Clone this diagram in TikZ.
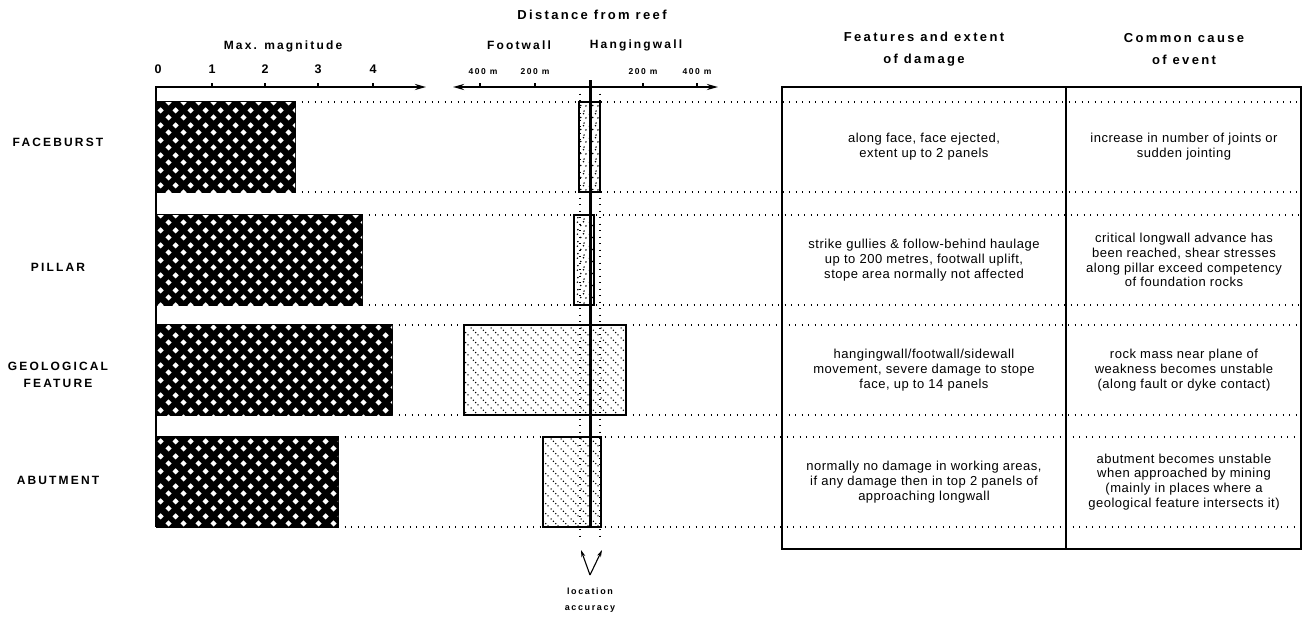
\documentclass[tikz,border=0pt]{standalone}
\usepackage{fontspec}
\setmainfont{Liberation Sans}
\newfontfamily\labfont[LetterSpace=18]{Liberation Sans}
\newfontfamily\bodyfont[LetterSpace=4]{Liberation Sans}
\usetikzlibrary{arrows.meta,patterns}

\pgfdeclarepatternformonly{wdiam}{\pgfqpoint{0pt}{0pt}}{\pgfqpoint{15pt}{15pt}}{\pgfqpoint{15pt}{15pt}}{%
  \pgfpathmoveto{\pgfqpoint{3.75pt}{0.5pt}}\pgfpathlineto{\pgfqpoint{7pt}{3.75pt}}%
  \pgfpathlineto{\pgfqpoint{3.75pt}{7pt}}\pgfpathlineto{\pgfqpoint{0.5pt}{3.75pt}}\pgfpathclose
  \pgfpathmoveto{\pgfqpoint{11.25pt}{8pt}}\pgfpathlineto{\pgfqpoint{14.5pt}{11.25pt}}%
  \pgfpathlineto{\pgfqpoint{11.25pt}{14.5pt}}\pgfpathlineto{\pgfqpoint{8pt}{11.25pt}}\pgfpathclose
  \pgfusepath{fill}}
\pgfdeclarepatternformonly{stip}{\pgfqpoint{0pt}{0pt}}{\pgfqpoint{12pt}{12pt}}{\pgfqpoint{12pt}{12pt}}{%
  \pgfpathcircle{\pgfqpoint{2pt}{2.5pt}}{0.9pt}
  \pgfpathcircle{\pgfqpoint{8.5pt}{1pt}}{0.9pt}
  \pgfpathcircle{\pgfqpoint{5pt}{7pt}}{0.9pt}
  \pgfpathcircle{\pgfqpoint{10.5pt}{6.5pt}}{0.9pt}
  \pgfpathcircle{\pgfqpoint{1.5pt}{10.5pt}}{0.9pt}
  \pgfpathcircle{\pgfqpoint{8pt}{11pt}}{0.9pt}
  \pgfusepath{fill}}
\pgfdeclarepatternformonly{ddiag}{\pgfqpoint{0pt}{0pt}}{\pgfqpoint{10pt}{10pt}}{\pgfqpoint{10pt}{10pt}}{%
  \pgfpathcircle{\pgfqpoint{1.25pt}{8.75pt}}{0.85pt}
  \pgfpathcircle{\pgfqpoint{3.75pt}{6.25pt}}{0.85pt}
  \pgfpathcircle{\pgfqpoint{6.25pt}{3.75pt}}{0.85pt}
  \pgfpathcircle{\pgfqpoint{8.75pt}{1.25pt}}{0.85pt}
  \pgfusepath{fill}}

\tikzset{
  lab/.style={font=\labfont\bfseries\fontsize{12}{14}\selectfont, inner sep=0pt, align=center},
  headlab/.style={font=\labfont\bfseries\fontsize{13}{22}\selectfont, inner sep=0pt, align=center},
  tinylab/.style={font=\labfont\bfseries\fontsize{8.5}{10}\selectfont, inner sep=0pt},
  numlab/.style={font=\labfont\bfseries\fontsize{12.5}{14}\selectfont, inner sep=0pt},
  acclab/.style={font=\labfont\bfseries\fontsize{9}{16}\selectfont, inner sep=0pt, align=center},
  body/.style={font=\bodyfont\fontsize{13}{14.8}\selectfont, inner sep=0pt, align=center},
  axisline/.style={line width=2.4pt},
  tick/.style={line width=1.5pt},
  magbar/.style={fill=black, postaction={pattern=wdiam, pattern color=white}, draw=black, line width=1.2pt},
  stipbar/.style={pattern=stip, pattern color=black, draw=black, line width=1.2pt},
  diagbar/.style={pattern=ddiag, pattern color=black, draw=black, line width=1.2pt},
  dotline/.style={line width=1.1pt, dash pattern=on 1.1pt off 5.4pt},
  frame/.style={line width=2.2pt},
  arrowtip/.style={-{Stealth[length=11pt,width=6pt]}},
}

\begin{document}
\begin{tikzpicture}[x=1pt,y=-1pt]
\useasboundingbox (0,0) rectangle (1309,616);

% ---------- dotted row lines ----------
\foreach \xs/\ya/\yb in {295/102/192, 362/215/305, 392/325/415, 338/437/527}{
  \draw[dotline] (\xs,\ya) -- (1301,\ya);
  \draw[dotline] (\xs,\yb) -- (1301,\yb);
}

% ---------- magnitude bars ----------
\path[magbar] (157,102) rectangle (295,192);
\path[magbar] (157,215) rectangle (362,305);
\path[magbar] (157,325) rectangle (392,415);
\path[magbar] (157,437) rectangle (338,527);

% ---------- distance bars ----------
\path[stipbar] (579,102) rectangle (600,192);
\path[stipbar] (574,215) rectangle (594,305);
\path[diagbar] (464,325) rectangle (626,415);
\path[diagbar] (543,437) rectangle (601,527);

% location accuracy lines
\coordinate (la1) at (580,87);
\coordinate (la2) at (600,87);
\coordinate (lb1) at (580,537);
\coordinate (lb2) at (600,537);
\draw[dotline] (la1) -- (lb1);
\draw[dotline] (la2) -- (lb2);

% reef line
\coordinate (reeftop) at (590,80);
\coordinate (reefbot) at (590,527);
\draw[line width=3pt] (reeftop) -- (reefbot);

% ---------- magnitude axis ----------
\coordinate (mo) at (156,87);
\coordinate (mb) at (156,527);
\coordinate (me) at (426,87);
\draw[axisline, arrowtip] (mb) -- (mo) -- (me);
\foreach \x in {212,265,318,373}{\draw[tick] (\x,83) -- (\x,88);}
\node[numlab] (m0) at (158,69) {0};
\node[numlab] (m1) at (212,69) {1};
\node[numlab] (m2) at (265,69) {2};
\node[numlab] (m3) at (318,69) {3};
\node[numlab] (m4) at (373,69) {4};
\node[lab] (mtitle) at (283,46) {Max. magnitude};

% ---------- distance axis ----------
\coordinate (dl) at (453,87);
\coordinate (dr) at (718,87);
\draw[axisline, {Stealth[length=11pt,width=6pt]}-{Stealth[length=11pt,width=6pt]}] (dl) -- (dr);
\foreach \x in {480,535,643,697}{\draw[tick] (\x,83) -- (\x,88);}
\node[tinylab] (d400l) at (483,72) {400 m};
\node[tinylab] (d200l) at (535,72) {200 m};
\node[tinylab] (d200r) at (643,72) {200 m};
\node[tinylab] (d400r) at (697,72) {400 m};
\node[lab, font=\labfont\bfseries\fontsize{13}{15}\selectfont] (dtitle) at (592,15) {Distance from reef};
\node[lab] (fw) at (519,45) {Footwall};
\node[lab] (hw) at (636,45) {Hangingwall};

% location accuracy arrows
\coordinate (vtip) at (590,575);
\coordinate (vl) at (581,550);
\coordinate (vr) at (602,550);
\draw[line width=1.1pt, -{Stealth[length=7pt,width=4pt]}] (vtip) -- (vl);
\draw[line width=1.1pt, -{Stealth[length=7pt,width=4pt]}] (vtip) -- (vr);
\node[acclab] (acc) at (590,600) {location\\accuracy};

% ---------- row labels ----------
\node[lab] (r1) at (58,142) {FACEBURST};
\node[lab] (r2) at (58,267) {PILLAR};
\node[lab, font=\labfont\bfseries\fontsize{12}{17}\selectfont] (r3) at (58,375) {GEOLOGICAL\\FEATURE};
\node[lab] (r4) at (58,480) {ABUTMENT};

% ---------- table ----------
\coordinate (tl) at (782,87);
\coordinate (br) at (1301,549);
\coordinate (dt) at (1066,87);
\coordinate (db) at (1066,549);
\draw[frame] (tl) rectangle (br);
\draw[frame] (dt) -- (db);
\node[headlab] (h1) at (924,49) {Features and extent\\of damage};
\node[headlab] (h2) at (1184,49) {Common cause\\of event};

\node[body] (c11) at (924,147) {along face, face ejected,\\extent up to 2 panels};
\node[body] (c12) at (1184,147) {increase in number of joints or\\sudden jointing};
\node[body] (c21) at (924,260) {strike gullies \& follow-behind haulage\\up to 200 metres, footwall uplift,\\stope area normally not affected};
\node[body] (c22) at (1184,260) {critical longwall advance has\\been reached, shear stresses\\along pillar exceed competency\\of foundation rocks};
\node[body] (c31) at (924,370) {hangingwall/footwall/sidewall\\movement, severe damage to stope\\face, up to 14 panels};
\node[body] (c32) at (1184,370) {rock mass near plane of\\weakness becomes unstable\\(along fault or dyke contact)};
\node[body] (c41) at (924,482) {normally no damage in working areas,\\if any damage then in top 2 panels of\\approaching longwall};
\node[body] (c42) at (1184,482) {abutment becomes unstable\\when approached by mining\\(mainly in places where a\\geological feature intersects it)};
\end{tikzpicture}
\end{document}
